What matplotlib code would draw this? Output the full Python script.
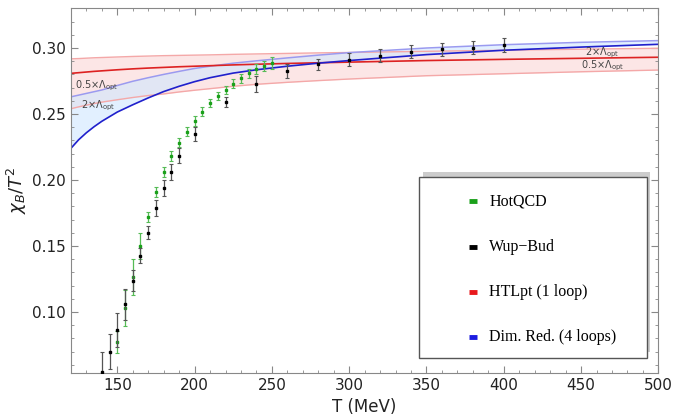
import matplotlib
matplotlib.use("Agg")
import matplotlib.pyplot as plt
from matplotlib.patches import Rectangle
from matplotlib.ticker import MultipleLocator

# lattice data
wb_T = [140, 145, 150, 155, 160, 165, 170, 175, 180, 185, 190, 200, 220, 240, 260,
        280, 300, 320, 340, 360, 380, 400]
wb_val = [0.0545, 0.070, 0.0863, 0.1057, 0.1237, 0.1426, 0.160, 0.179, 0.194, 0.2062,
          0.2184, 0.2350, 0.2588, 0.2727, 0.2826, 0.2876, 0.2910, 0.2942, 0.2972,
          0.2990, 0.3002, 0.3023]
wb_err = [0.015, 0.013, 0.013, 0.012, 0.008, 0.0057, 0.005, 0.006, 0.006, 0.006,
          0.0057, 0.0053, 0.0038, 0.006, 0.0053, 0.0043, 0.005, 0.005, 0.005, 0.005,
          0.005, 0.005]

hq_T = [150, 155, 160, 165, 170, 175, 180, 185, 190, 195, 200, 205, 210, 215, 220,
        225, 230, 235, 240, 245, 250]
hq_val = [0.0774, 0.1032, 0.1267, 0.150, 0.172, 0.1906, 0.2062, 0.218, 0.2282, 0.2366,
          0.2447, 0.2517, 0.258, 0.2636, 0.268, 0.273, 0.277, 0.2808, 0.2841, 0.2864,
          0.2884]
hq_err = [0.0085, 0.0136, 0.0135, 0.0095, 0.0035, 0.0038, 0.0038, 0.0038, 0.0035,
          0.0035, 0.0035, 0.0035, 0.003, 0.003, 0.003, 0.0035, 0.0035, 0.0035, 0.004,
          0.004, 0.0045]

# perturbative curves
T_curve = [120, 125, 130, 135, 140, 150, 160, 170, 180, 190, 200, 210, 225, 240, 260,
           280, 300, 350, 400, 450, 500]
dimred_lo = [0.2240, 0.2305, 0.2358, 0.2404, 0.2445, 0.2515, 0.2570, 0.2622, 0.2670,
             0.2710, 0.2745, 0.2775, 0.2810, 0.2835, 0.2862, 0.2885, 0.2905, 0.2950,
             0.2983, 0.3007, 0.3028]
dimred_up = [0.2630, 0.2643, 0.2656, 0.2669, 0.2682, 0.2716, 0.2748, 0.2775, 0.2800,
             0.2823, 0.2845, 0.2862, 0.2885, 0.2903, 0.2925, 0.2946, 0.2965, 0.3000,
             0.3025, 0.3043, 0.3056]
htl_mid = [0.2808, 0.2813, 0.2818, 0.2823, 0.2827, 0.2835, 0.2842, 0.2848, 0.2853,
           0.2858, 0.2862, 0.2866, 0.2872, 0.2877, 0.2883, 0.2888, 0.2893, 0.2905,
           0.2914, 0.2922, 0.2930]
htl_up = [0.2918, 0.2920, 0.2923, 0.2926, 0.2928, 0.2932, 0.2936, 0.2939, 0.2942,
          0.2944, 0.2946, 0.2948, 0.2952, 0.2955, 0.2959, 0.2963, 0.2966, 0.2975,
          0.2983, 0.2991, 0.2998]
htl_lo = [0.2540, 0.2554, 0.2567, 0.2579, 0.2590, 0.2608, 0.2625, 0.2640, 0.2652,
          0.2667, 0.2680, 0.2692, 0.2710, 0.2725, 0.2740, 0.2753, 0.2765, 0.2790,
          0.2805, 0.2820, 0.2833]

legend_labels = ["HotQCD", "Wup\u2212Bud", "HTLpt (1 loop)", "Dim. Red. (4 loops)"]
legend_colors = ["#1aa01a", "black", "#e8181c", "#1c1ce0"]

fig = plt.figure(figsize=(6.78, 4.17), dpi=100)
ax = fig.add_axes([0.1046, 0.1055, 0.8664, 0.8753])

# bands
ax.fill_between(T_curve, htl_lo, htl_up, color="#fbd6d6", alpha=0.6, lw=0)
ax.plot(T_curve, htl_up, color="#f4a8a8", lw=1)
ax.plot(T_curve, htl_lo, color="#f4a8a8", lw=1)
ax.fill_between(T_curve, dimred_lo, dimred_up, color="#cfe6ff", alpha=0.6, lw=0)
ax.plot(T_curve, dimred_up, color="#9a9af0", lw=1.1)
ax.plot(T_curve, htl_mid, color="#dd2222", lw=1.2)
ax.plot(T_curve, dimred_lo, color="#2020cc", lw=1.2)

# data
ax.errorbar(hq_T, hq_val, yerr=hq_err, fmt="s", ms=1.6, color="#1aa01a",
            ecolor="#55bb55", elinewidth=0.9, capsize=1.5, capthick=0.8, zorder=4)
ax.errorbar(wb_T, wb_val, yerr=wb_err, fmt="s", ms=1.6, color="black",
            ecolor="#555555", elinewidth=0.9, capsize=1.5, capthick=0.8, zorder=5)

# band labels
lab = dict(fontsize=7, color="#444444", family="DejaVu Sans", va="center")
ax.text(122.5, 0.2712, r"0.5$\times\Lambda_{\rm opt}$", **lab)
ax.text(126.5, 0.2560, r"2$\times\Lambda_{\rm opt}$", **lab)
ax.text(452.5, 0.2962, r"2$\times\Lambda_{\rm opt}$", **lab)
ax.text(449.7, 0.2864, r"0.5$\times\Lambda_{\rm opt}$", **lab)

ax.set_xlim(120, 500)
ax.set_ylim(0.0538, 0.3303)
ax.xaxis.set_major_locator(MultipleLocator(50))
ax.xaxis.set_minor_locator(MultipleLocator(10))
ax.yaxis.set_major_locator(MultipleLocator(0.05))
ax.yaxis.set_minor_locator(MultipleLocator(0.01))
ax.set_xticks([150, 200, 250, 300, 350, 400, 450, 500])
ax.tick_params(which="both", direction="in", top=True, right=True, color="#888888",
               labelsize=11, labelcolor="#222222")
ax.tick_params(which="major", length=5)
ax.tick_params(which="minor", length=2.5)
for s in ax.spines.values():
    s.set_color("#888888")

ax.set_xlabel("T (MeV)", fontsize=12, color="#222222", labelpad=4)
ax.set_ylabel(r"$\chi_B/T^2$", fontsize=13, color="#222222", labelpad=2)

# legend box with offset shadow
x0, y0, w, h = 0.593, 0.0403, 0.3876, 0.4957
ax.add_patch(Rectangle((x0 + 0.006, y0 + 0.016), w, h, transform=ax.transAxes,
                       facecolor="#cccccc", edgecolor="none", zorder=9))
ax.add_patch(Rectangle((x0, y0), w, h, transform=ax.transAxes,
                       facecolor="white", edgecolor="#555555", lw=1, zorder=10))
for i, (name, col) in enumerate(zip(legend_labels, legend_colors)):
    yy = 0.470 - i * 0.1235
    ax.plot([0.6785, 0.6915], [yy, yy], color=col, lw=3.5, transform=ax.transAxes,
            solid_capstyle="butt", zorder=11)
    ax.text(0.712, yy, name, transform=ax.transAxes, fontsize=11.5, va="center",
            family="Liberation Serif", color="black", zorder=11)

fig.savefig("out.png", dpi=100)
